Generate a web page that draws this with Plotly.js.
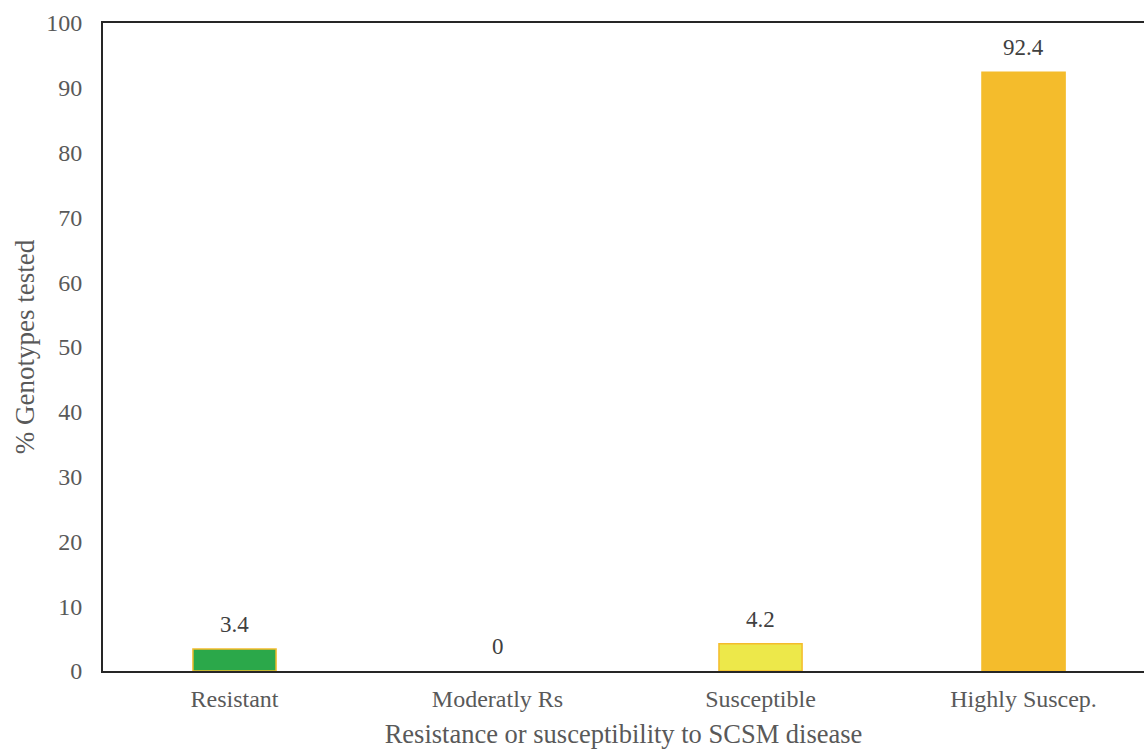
<!DOCTYPE html>
<html>
<head>
<meta charset="utf-8">
<script src="https://cdn.plot.ly/plotly-3.0.1.min.js"></script>
<style>html,body{margin:0;padding:0;background:#fff;}#chart{width:1144px;height:749px;}</style>
</head>
<body>
<div id="chart"></div>
<script>
// Share of genotypes in each SCSM disease reaction class
const categories = ['Resistant', 'Moderatly Rs', 'Susceptible', 'Highly Suscep.'];
const percentGenotypes = [3.4, 0, 4.2, 92.4];
const barColors = ['#2BA84A', '#2BA84A', '#EDE84A', '#F4BC2C'];
const borderColors = ['#F4BC2C', 'rgba(0,0,0,0)', '#F4BC2C', '#F4BC2C'];
const yTicks = [0, 10, 20, 30, 40, 50, 60, 70, 80, 90, 100];

const serif = 'Liberation Serif, Times New Roman, serif';

const trace = {
  type: 'bar',
  x: categories,
  y: percentGenotypes,
  marker: {color: barColors, line: {color: borderColors, width: 1.5}},
  hoverinfo: 'x+y'
};

// value labels above each bar
const valueLabels = categories.map((c, i) => ({
  x: c,
  y: percentGenotypes[i],
  xref: 'x',
  yref: 'y',
  text: String(percentGenotypes[i]),
  showarrow: false,
  yanchor: 'bottom',
  yshift: 10,
  font: {family: serif, size: 23, color: '#404040'}
}));

const layout = {
  width: 1144,
  height: 749,
  margin: {l: 103, r: 0, t: 23, b: 78},
  paper_bgcolor: '#ffffff',
  plot_bgcolor: '#ffffff',
  bargap: 0.684,
  showlegend: false,
  annotations: valueLabels,
  xaxis: {
    type: 'category',
    range: [-0.5, 3.458],
    showline: true,
    mirror: true,
    linecolor: '#262626',
    linewidth: 2,
    ticks: '',
    showgrid: false,
    ticklabelstandoff: 5,
    tickfont: {family: serif, size: 24, color: '#595959'},
    title: {text: 'Resistance or susceptibility to SCSM disease', font: {family: serif, size: 26.5, color: '#595959'}, standoff: 16}
  },
  yaxis: {
    range: [0, 100],
    tickvals: yTicks,
    showline: true,
    linecolor: '#262626',
    linewidth: 2,
    ticks: '',
    showgrid: false,
    zeroline: false,
    ticklabelstandoff: 14,
    tickfont: {family: serif, size: 24, color: '#595959'},
    title: {text: '% Genotypes tested', font: {family: serif, size: 27, color: '#595959'}, standoff: 4}
  }
};

Plotly.newPlot('chart', [trace], layout, {displayModeBar: false, staticPlot: true});
</script>
</body>
</html>
